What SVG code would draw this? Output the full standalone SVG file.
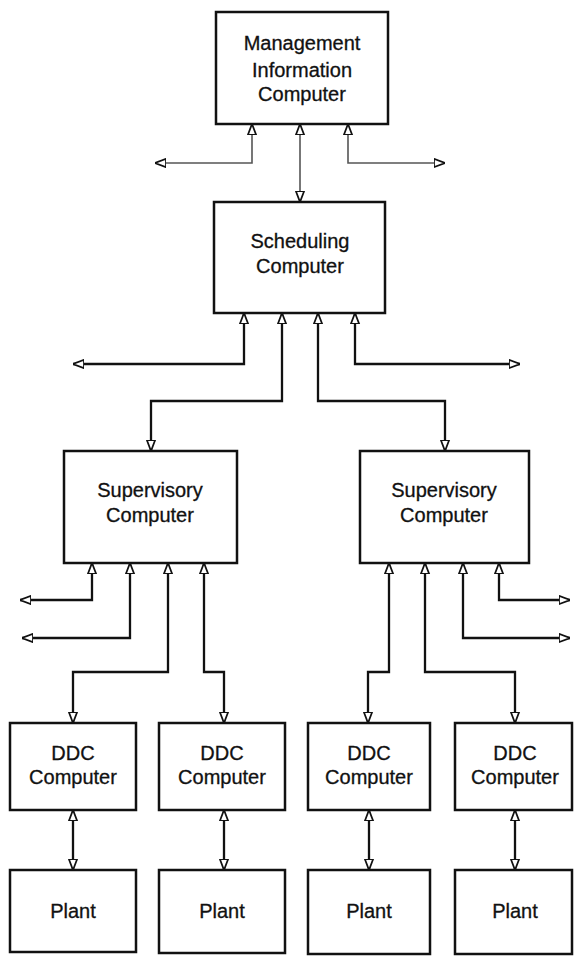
<svg xmlns="http://www.w3.org/2000/svg" width="574" height="965" viewBox="0 0 574 965">
<style>
.box{fill:#fff;stroke:#111;stroke-width:2.5}
.t{font-family:"Liberation Sans",Arial,sans-serif;font-size:20px;fill:#111;text-anchor:middle;stroke:#111;stroke-width:0.3}
.c{fill:none;stroke:#111;stroke-width:2.3;marker-start:url(#a);marker-end:url(#a)}
.l{stroke:#555;stroke-width:1.6}
</style>
<defs>
<marker id="a" viewBox="0 0 10 10" refX="10" refY="5" markerWidth="11" markerHeight="11" markerUnits="userSpaceOnUse" orient="auto-start-reverse">
<path d="M0,1.2 L10,5 L0,8.8 z" fill="#fff" stroke="#111" stroke-width="1.6"/>
</marker>
</defs>
<g id="connectors">
<path class="c l" d="M252,124 V163 H155"/>
<path class="c l" d="M300,124 V202"/>
<path class="c l" d="M348,124 V163 H445"/>
<path class="c" d="M244,313 V364 H73"/>
<path class="c" d="M282,313 V401 H151 V451"/>
<path class="c" d="M318,313 V401 H445 V451"/>
<path class="c" d="M355,313 V364 H520"/>
<path class="c" d="M92,563 V600 H20"/>
<path class="c" d="M130,563 V638 H22"/>
<path class="c" d="M168,563 V672 H73 V723"/>
<path class="c" d="M204,563 V672 H224 V723"/>
<path class="c" d="M389,563 V672 H368 V723"/>
<path class="c" d="M425,563 V672 H515 V723"/>
<path class="c" d="M463,563 V638 H570"/>
<path class="c" d="M499,563 V600 H570"/>
<path class="c" d="M73,810 V870"/>
<path class="c" d="M224,810 V870"/>
<path class="c" d="M369,810 V870"/>
<path class="c" d="M515,810 V870"/>
</g>
<g id="mic">
<rect class="box" x="216" y="12" width="172" height="112"/>
<text class="t" x="302" y="50">Management</text>
<text class="t" x="302" y="77">Information</text>
<text class="t" x="302" y="101">Computer</text>
</g>
<g id="scheduling">
<rect class="box" x="214" y="202" width="171" height="111"/>
<text class="t" x="300" y="248">Scheduling</text>
<text class="t" x="300" y="273">Computer</text>
</g>
<g id="supervisory1">
<rect class="box" x="64" y="451" width="173" height="112"/>
<text class="t" x="150" y="497">Supervisory</text>
<text class="t" x="150" y="522">Computer</text>
</g>
<g id="supervisory2">
<rect class="box" x="360" y="451" width="169" height="112"/>
<text class="t" x="444" y="497">Supervisory</text>
<text class="t" x="444" y="522">Computer</text>
</g>
<g id="ddc1">
<rect class="box" x="10" y="723" width="126" height="87"/>
<text class="t" x="73" y="760">DDC</text>
<text class="t" x="73" y="784">Computer</text>
</g>
<g id="ddc2">
<rect class="box" x="159" y="723" width="126" height="87"/>
<text class="t" x="222" y="760">DDC</text>
<text class="t" x="222" y="784">Computer</text>
</g>
<g id="ddc3">
<rect class="box" x="308" y="723" width="122" height="87"/>
<text class="t" x="369" y="760">DDC</text>
<text class="t" x="369" y="784">Computer</text>
</g>
<g id="ddc4">
<rect class="box" x="455" y="723" width="117" height="87"/>
<text class="t" x="515" y="760">DDC</text>
<text class="t" x="515" y="784">Computer</text>
</g>
<g id="plant1">
<rect class="box" x="10" y="870" width="126" height="82"/>
<text class="t" x="73" y="918">Plant</text>
</g>
<g id="plant2">
<rect class="box" x="159" y="870" width="126" height="83"/>
<text class="t" x="222" y="918">Plant</text>
</g>
<g id="plant3">
<rect class="box" x="308" y="870" width="122" height="84"/>
<text class="t" x="369" y="918">Plant</text>
</g>
<g id="plant4">
<rect class="box" x="455" y="870" width="117" height="84"/>
<text class="t" x="515" y="918">Plant</text>
</g>
</svg>
